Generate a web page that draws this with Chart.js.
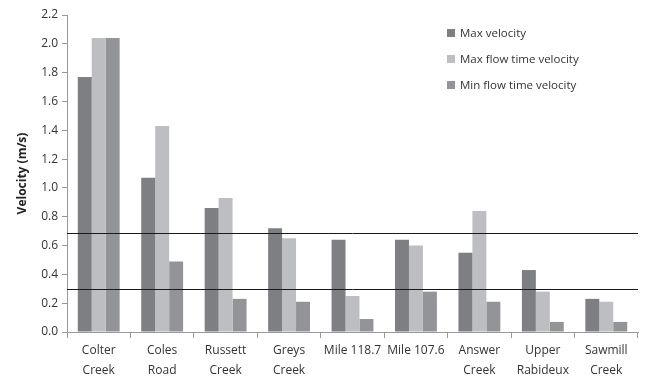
<!DOCTYPE html>
<html>
<head>
<meta charset="utf-8">
<script src="https://cdn.jsdelivr.net/npm/chart.js@4"></script>
<style>
  body { margin: 0; background: #fff; }
  #wrap { position: relative; width: 652px; height: 381px; }
  #legend { position: absolute; left: 447px; top: 25px; font: 11.5px "Open Sans", sans-serif; color: #333; }
  #legend div { height: 26px; line-height: 16px; }
  #legend span { display: inline-block; width: 8px; height: 8px; margin-right: 5px; }
</style>
</head>
<body>
<div id="wrap">
  <canvas id="velocityChart" width="652" height="381"></canvas>
  <div id="legend"></div>
</div>
<script>
var sites = [["Colter", "Creek"], ["Coles", "Road"], ["Russett", "Creek"], ["Greys", "Creek"], "Mile 118.7", "Mile 107.6", ["Answer", "Creek"], ["Upper", "Rabideux"], ["Sawmill", "Creek"]];
var maxVelocity = [1.77, 1.07, 0.86, 0.72, 0.64, 0.64, 0.55, 0.43, 0.23];
var maxFlowTimeVelocity = [2.04, 1.43, 0.93, 0.65, 0.25, 0.60, 0.84, 0.28, 0.21];
var minFlowTimeVelocity = [2.04, 0.49, 0.23, 0.21, 0.09, 0.28, 0.21, 0.07, 0.07];
var thresholds = [0.69, 0.30];

var seriesNames = ["Max velocity", "Max flow time velocity", "Min flow time velocity"];
var seriesColors = ["#7e7f83", "#bdbec2", "#939498"];

// horizontal reference lines across the plot
var thresholdLines = {
  id: "thresholdLines",
  afterDatasetsDraw: function(chart) {
    var ctx = chart.ctx, area = chart.chartArea, y = chart.scales.y;
    ctx.save();
    ctx.strokeStyle = "#1a1a1a";
    ctx.lineWidth = 1;
    thresholds.forEach(function(v) {
      var py = Math.round(y.getPixelForValue(v)) + 0.5;
      ctx.beginPath();
      ctx.moveTo(area.left, py);
      ctx.lineTo(area.right, py);
      ctx.stroke();
    });
    ctx.restore();
  }
};

var chart = new Chart("velocityChart", {
  type: "bar",
  data: {
    labels: sites,
    datasets: [{
      label: seriesNames[0],
      data: maxVelocity,
      backgroundColor: seriesColors[0]
    },
    {
      label: seriesNames[1],
      data: maxFlowTimeVelocity,
      backgroundColor: seriesColors[1]
    },
    {
      label: seriesNames[2],
      data: minFlowTimeVelocity,
      backgroundColor: seriesColors[2]
    }]
  },
  options: {
    responsive: false,
    animation: false,
    categoryPercentage: 0.66,
    barPercentage: 1.0,
    layout: { padding: { top: 15, right: 14, left: 0, bottom: 0 } },
    plugins: {
      legend: { display: false },
      tooltip: { enabled: false }
    },
    scales: {
      x: {
        grid: { drawOnChartArea: false, tickLength: 6, color: "#999" },
        border: { color: "#999" },
        ticks: { color: "#333", font: { family: "Open Sans", size: 12, lineHeight: 1.7 }, maxRotation: 0, autoSkip: false, padding: 2 },
        afterFit: function(s) { s.height = 49; }
      },
      y: {
        min: 0,
        max: 2.2,
        grid: { drawOnChartArea: false, tickLength: 5, color: "#999" },
        border: { color: "#999" },
        ticks: {
          stepSize: 0.2,
          color: "#333",
          font: { family: "Open Sans", size: 12 },
          padding: 4,
          callback: function(v) { return v.toFixed(1); }
        },
        title: {
          display: true,
          text: "Velocity (m/s)",
          color: "#222",
          font: { family: "Open Sans", size: 12, weight: "bold" },
          padding: { top: 15, bottom: 0 }
        },
        afterFit: function(s) { s.width = 67; }
      }
    }
  },
  plugins: [thresholdLines]
});

var legend = document.getElementById("legend");
seriesNames.forEach(function(name, i) {
  var row = document.createElement("div");
  var box = document.createElement("span");
  box.style.background = seriesColors[i];
  row.appendChild(box);
  row.appendChild(document.createTextNode(name));
  legend.appendChild(row);
});
</script>
</body>
</html>
